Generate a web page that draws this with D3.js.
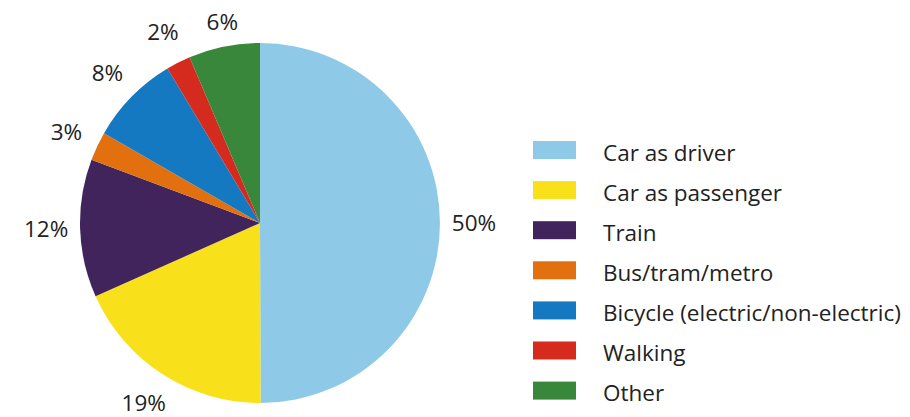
<!DOCTYPE html>
<html>
<head>
<meta charset="utf-8">
<script src="https://cdn.jsdelivr.net/npm/d3@7"></script>
<style>
  body { margin: 0; background: #fff; }
  text { font-family: "Open Sans", "Noto Sans", sans-serif; fill: #222; }
</style>
</head>
<body>
<div id="chart"></div>
<script>
// modes of transport, clockwise from 12 o'clock
const categories = ["Car as driver", "Car as passenger", "Train", "Bus/tram/metro",
    "Bicycle (electric/non-electric)", "Walking", "Other"];
// slice sizes (share of trips, %)
const shares = [50, 18.4, 12.4, 2.6, 8.1, 2.2, 6.4];
// labels printed next to the slices
const shareLabels = ["50%", "19%", "12%", "3%", "8%", "2%", "6%"];
const colors = ["#8fc9e8", "#f8e11a", "#42245c", "#e2700f", "#1479c0", "#d52b1e", "#39873a"];

const width = 910, height = 417;
const center = {x: 260, y: 223};
const radius = 180;

const svg = d3.select("#chart").append("svg")
    .attr("width", width)
    .attr("height", height);

const color = d3.scaleOrdinal().domain(categories).range(colors);

const pie = d3.pie().sort(null).value(d => d.value);
const arcs = pie(categories.map((c, i) => ({name: c, value: shares[i], label: shareLabels[i]})));

const arc = d3.arc().innerRadius(0).outerRadius(radius);
const labelArc = d3.arc().innerRadius(radius + 34).outerRadius(radius + 34);

const g = svg.append("g")
    .attr("transform", "translate(" + center.x + "," + center.y + ")");

g.selectAll("path.slice")
    .data(arcs)
    .join("path")
    .attr("class", "slice")
    .attr("d", arc)
    .attr("fill", d => color(d.data.name));

// keep labels from running off the top of the picture
const minY = 22 - center.y;

g.selectAll("text.pct")
    .data(arcs)
    .join("text")
    .attr("class", "pct")
    .attr("transform", d => {
        let [x, y] = labelArc.centroid(d);
        return "translate(" + (x + (y < minY ? 5 : 0)) + "," + Math.max(y, minY) + ")";
    })
    .attr("text-anchor", "middle")
    .attr("dy", "0.35em")
    .style("font-size", "22.5px")
    .text(d => d.data.label);

// legend
const legend = svg.append("g")
    .attr("transform", "translate(533,141)");

const rows = legend.selectAll("g")
    .data(categories)
    .join("g")
    .attr("transform", (d, i) => "translate(0," + i * 40.1 + ")");

rows.append("rect")
    .attr("width", 43)
    .attr("height", 18)
    .attr("fill", d => color(d));

rows.append("text")
    .attr("x", 70)
    .attr("y", 12)
    .attr("dy", "0.35em")
    .style("font-size", "22.5px")
    .text(d => d);
</script>
</body>
</html>
